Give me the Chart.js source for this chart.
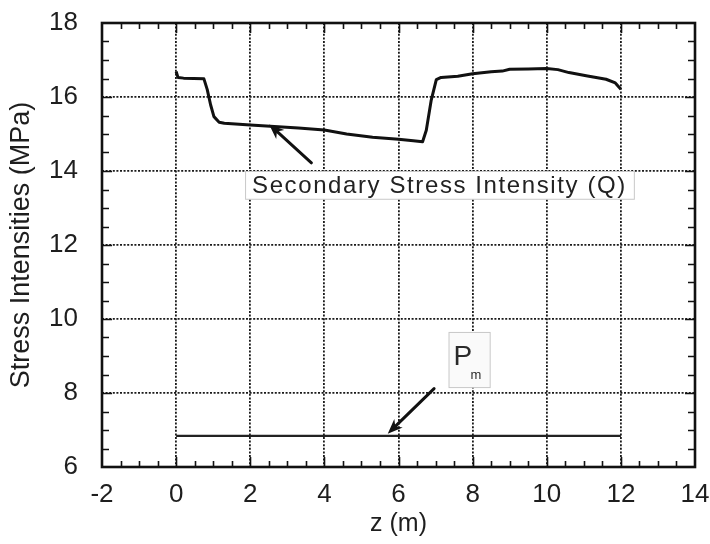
<!DOCTYPE html>
<html><head><meta charset="utf-8">
<script src="https://cdn.jsdelivr.net/npm/chart.js@4.4.1/dist/chart.umd.min.js"></script>
<style>html,body{margin:0;padding:0;background:#fff}#wrap{width:710px;height:544px}</style>
</head><body><div id="wrap"><canvas id="c" width="710" height="544"></canvas></div>
<script>
// ---- data ----
const qZ = [0, 0.05, 0.2, 0.75, 0.84, 0.93, 1.02, 1.16, 1.3, 2.0, 3.3, 4.0, 4.6, 5.3, 6.0, 6.4, 6.65, 6.75, 6.88, 7.02, 7.15, 7.6, 8.0, 8.5, 8.8, 9.0, 9.5, 10.0, 10.3, 10.6, 11.1, 11.6, 11.85, 12.0];
const qValues = [16.69, 16.53, 16.51, 16.49, 16.2, 15.79, 15.47, 15.32, 15.29, 15.24, 15.16, 15.11, 15.0, 14.91, 14.86, 14.82, 14.79, 15.1, 15.9, 16.47, 16.53, 16.56, 16.63, 16.68, 16.70, 16.75, 16.76, 16.77, 16.74, 16.66, 16.57, 16.48, 16.38, 16.21];
const pmZ = [0, 12];
const pmValues = [6.84, 6.84];
const xTickValues = [-2, 0, 2, 4, 6, 8, 10, 12, 14];
const yTickValues = [6, 8, 10, 12, 14, 16, 18];
const xTitle = 'z (m)';
const yTitle = 'Stress Intensities (MPa)';
const qLabel = 'Secondary Stress Intensity (Q)';
const pmLabelMain = 'P';
const pmLabelSub = 'm';
// annotation anchors in data units
const qArrow = {from: [3.65, 14.22], to: [2.51, 15.26]};
const qBox = {x0: 1.86, x1: 12.35, y0: 14.0, y1: 13.25};
const pmArrow = {from: [6.96, 8.12], to: [5.71, 6.9]};
const pmBox = {x0: 7.35, x1: 8.46, y0: 9.65, y1: 8.16};

const toXY = (xs, ys) => xs.map((x, i) => ({x, y: ys[i]}));

function arrow(ctx, x1, y1, x2, y2) {
  const ang = Math.atan2(y2 - y1, x2 - x1);
  const hl = 15, hw = 6;
  ctx.save();
  ctx.strokeStyle = '#111'; ctx.fillStyle = '#111'; ctx.lineWidth = 3; ctx.lineCap = 'round';
  ctx.beginPath();
  ctx.moveTo(x1, y1);
  ctx.lineTo(x2 - Math.cos(ang) * hl * 0.7, y2 - Math.sin(ang) * hl * 0.7);
  ctx.stroke();
  ctx.beginPath();
  ctx.moveTo(x2, y2);
  ctx.lineTo(x2 - Math.cos(ang) * hl + Math.sin(ang) * hw, y2 - Math.sin(ang) * hl - Math.cos(ang) * hw);
  ctx.lineTo(x2 - Math.cos(ang) * hl * 0.7, y2 - Math.sin(ang) * hl * 0.7);
  ctx.lineTo(x2 - Math.cos(ang) * hl - Math.sin(ang) * hw, y2 - Math.sin(ang) * hl + Math.cos(ang) * hw);
  ctx.closePath();
  ctx.fill();
  ctx.restore();
}

const overlay = {
  id: 'overlay',
  afterDatasetsDraw(chart) {
    const ctx = chart.ctx, xs = chart.scales.x, ys = chart.scales.y;
    const px = v => xs.getPixelForValue(v), py = v => ys.getPixelForValue(v);
    // Q label box
    ctx.save();
    let bx = px(qBox.x0), bx1 = px(qBox.x1), by = py(qBox.y0), by1 = py(qBox.y1);
    ctx.fillStyle = '#fff';
    ctx.fillRect(bx, by, bx1 - bx, by1 - by);
    ctx.strokeStyle = '#c8c8c8'; ctx.lineWidth = 1;
    ctx.strokeRect(bx + 0.5, by + 0.5, bx1 - bx, by1 - by);
    ctx.fillStyle = '#222';
    ctx.font = '24px "Liberation Sans", Arial, sans-serif';
    try { ctx.letterSpacing = '1.6px'; } catch (e) {}
    ctx.textAlign = 'center'; ctx.textBaseline = 'middle';
    ctx.fillText(qLabel, (bx + bx1) / 2, (by + by1) / 2 + 1);
    ctx.restore();
    // Pm label box
    ctx.save();
    bx = px(pmBox.x0); bx1 = px(pmBox.x1); by = py(pmBox.y0); by1 = py(pmBox.y1);
    ctx.fillStyle = '#fafafa';
    ctx.fillRect(bx, by, bx1 - bx, by1 - by);
    ctx.strokeStyle = '#c8c8c8'; ctx.lineWidth = 1;
    ctx.strokeRect(bx + 0.5, by + 0.5, bx1 - bx, by1 - by);
    ctx.fillStyle = '#2a2a2a';
    ctx.textBaseline = 'alphabetic'; ctx.textAlign = 'left';
    ctx.font = '28px "Liberation Sans", Arial, sans-serif';
    ctx.fillText(pmLabelMain, bx + 5, by + 33);
    ctx.font = '13px "Liberation Sans", Arial, sans-serif';
    ctx.fillText(pmLabelSub, bx + 22, by + 47);
    ctx.restore();
    arrow(ctx, px(qArrow.from[0]), py(qArrow.from[1]), px(qArrow.to[0]), py(qArrow.to[1]));
    arrow(ctx, px(pmArrow.from[0]), py(pmArrow.from[1]), px(pmArrow.to[0]), py(pmArrow.to[1]));
  },
  afterDraw(chart) {
    const ctx = chart.ctx, a = chart.chartArea, xs = chart.scales.x, ys = chart.scales.y;
    ctx.save();
    ctx.strokeStyle = '#111';
    ctx.lineWidth = 1.6;
    ctx.beginPath();
    for (let v = xs.min + 0.5; v < xs.max - 0.01; v += 0.5) {
      const major = Math.abs(v / 2 - Math.round(v / 2)) < 1e-6;
      const len = major ? 10 : 6;
      const p = Math.round(xs.getPixelForValue(v)) + 0.5;
      ctx.moveTo(p, a.bottom); ctx.lineTo(p, a.bottom - len);
      ctx.moveTo(p, a.top); ctx.lineTo(p, a.top + len);
    }
    for (let v = ys.min + 0.5; v < ys.max - 0.01; v += 0.5) {
      const major = Math.abs(v / 2 - Math.round(v / 2)) < 1e-6;
      const len = major ? 10 : 7;
      const p = Math.round(ys.getPixelForValue(v)) + 0.5;
      ctx.moveTo(a.left, p); ctx.lineTo(a.left + len, p);
      ctx.moveTo(a.right, p); ctx.lineTo(a.right - len, p);
    }
    ctx.stroke();
    ctx.lineWidth = 2.6;
    ctx.strokeRect(a.left, a.top, a.right - a.left, a.bottom - a.top);
    ctx.restore();
  }
};

const tickFont = {family: '"Liberation Sans", Arial, sans-serif', size: 26};
const xTitleFont = {family: '"Liberation Sans", Arial, sans-serif', size: 25};
const yTitleFont = {family: '"Liberation Sans", Arial, sans-serif', size: 27};
new Chart(document.getElementById('c'), {
  type: 'scatter',
  data: {
    datasets: [
      {data: toXY(qZ, qValues), showLine: true, borderColor: '#111', borderWidth: 3, pointRadius: 0, tension: 0, borderJoinStyle: 'round'},
      {data: toXY(pmZ, pmValues), showLine: true, borderColor: '#222', borderWidth: 2.4, pointRadius: 0}
    ]
  },
  options: {
    responsive: false, animation: false, devicePixelRatio: 1,
    layout: {padding: {left: 0, top: 23, right: 15, bottom: 0}},
    plugins: {legend: {display: false}, tooltip: {enabled: false}},
    scales: {
      x: {
        type: 'linear', min: -2, max: 14,
        afterBuildTicks: s => { s.ticks = xTickValues.map(v => ({value: v})); },
        afterFit: s => { s.height = 77; s.paddingLeft = 0; s.paddingRight = 0; },
        ticks: {font: tickFont, color: '#1e1e1e', padding: 12, maxRotation: 0},
        grid: {color: '#1a1a1a', lineWidth: 1.8, drawTicks: false},
        border: {display: false, dash: [2, 1.6]},
        title: {display: true, text: xTitle, font: xTitleFont, color: '#1e1e1e', padding: {top: 5, bottom: 5}}
      },
      y: {
        type: 'linear', min: 6, max: 18,
        afterBuildTicks: s => { s.ticks = yTickValues.map(v => ({value: v})); },
        afterFit: s => { s.width = 102; s.paddingTop = 0; s.paddingBottom = 0; },
        ticks: {font: tickFont, color: '#1e1e1e', padding: 24},
        grid: {color: '#1a1a1a', lineWidth: 1.8, drawTicks: false},
        border: {display: false, dash: [2, 1.6]},
        title: {display: true, text: yTitle, font: yTitleFont, color: '#1e1e1e', padding: {top: 5, bottom: 5}}
      }
    }
  },
  plugins: [overlay]
});
</script></body></html>
